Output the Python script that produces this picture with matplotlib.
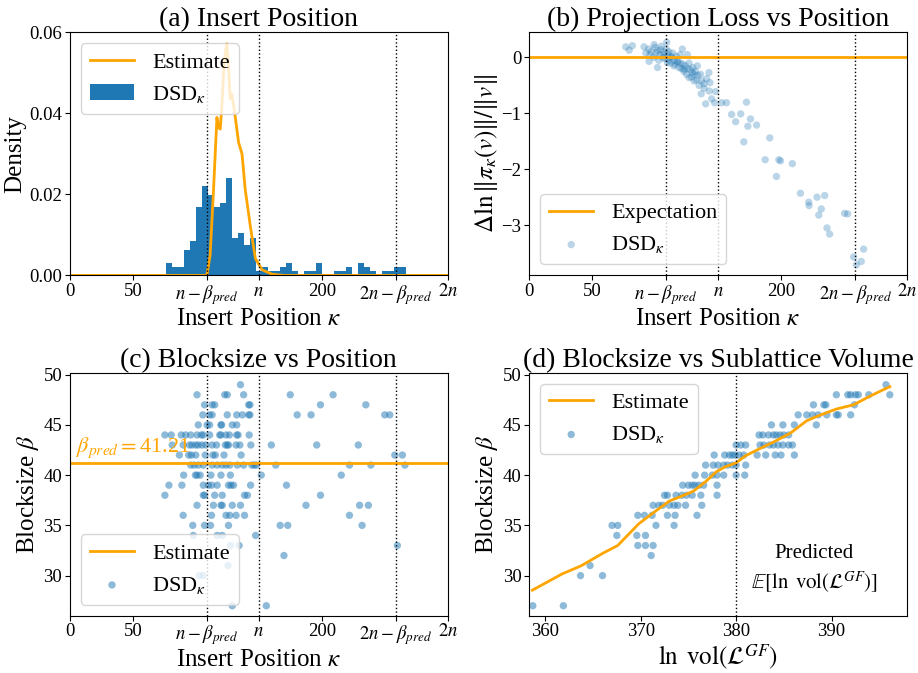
import matplotlib.pyplot as plt
import numpy as np

plt.rcParams['mathtext.fontset'] = 'stix'
plt.rcParams['font.family'] = ['Liberation Serif', 'DejaVu Serif']

n = 150
beta_pred = 41.21
ORANGE = 'orange'
BLUE = '#1f77b4'

# (a) histogram: bins of equal width starting at hist_start
hist_start = 76.4
hist_width = 4.77
hist_heights = [0.003, 0.002, 0.002, 0.0062, 0.0084, 0.0168, 0.0221, 0.0199, 0.0168, 0.0178,
                0.024, 0.0093, 0.0105, 0.0074, 0.0093, 0.001, 0.002, 0.001, 0.001, 0.002,
                0.003, 0.001, 0.0, 0.001, 0.001, 0.003, 0.0, 0.0, 0.001, 0.001,
                0.002, 0.0, 0.003, 0.002, 0.001, 0.0, 0.001, 0.001, 0.002, 0.002]
est_a_x = [0, 108.8, 111.4, 114.1, 116.8, 118.1, 119.4, 120.7, 122.0, 123.4, 124.7, 126.0,
           127.3, 128.6, 130.8, 134.0, 136.7, 139.3, 143.3, 147.3, 152.6, 160.6, 170, 300]
est_a_y = [0, 0, 0.005, 0.0211, 0.0390, 0.0365, 0.0361, 0.0417, 0.0494, 0.0550, 0.0572, 0.0516,
           0.0436, 0.0448, 0.0404, 0.0328, 0.0300, 0.0211, 0.0122, 0.0042, 0.0014, 0.0003, 0.0, 0.0]

# (b) projection loss
pl_x = [76.8, 79.5, 82, 91.3, 92.7, 95.3, 99.3, 102, 104.5, 109.3, 107.2, 109.8, 112.5, 115,
        117.7, 121.7, 123, 125.7, 127, 129.6, 131, 133.6, 136.2, 136.7, 138.9, 140.2, 142.8,
        143.6, 145, 147.3, 148.1, 152.9, 156.8, 160.8, 164, 168, 170.5, 172.6, 173.7, 175.8,
        180.6, 187.4, 191.1, 196.4, 198.3, 199.6, 209, 215.4, 222, 222.3, 228.6, 230, 232,
        234.7, 236.5, 238.6, 250.5, 252.9, 257.7, 259.8, 263.7, 265.6,
        95, 97, 100, 102, 104, 105, 106, 107, 108, 109, 110, 111, 111, 112, 113, 114, 115, 116,
        117, 118, 119, 120, 120, 121, 122, 123, 124, 125, 126, 127, 128, 129, 130, 131, 132,
        133, 134, 135, 137, 139, 141, 143, 103, 99, 101, 96]
pl_y = [0.19, 0.13, 0.21, 0.19, 0.08, -0.07, 0.23, -0.18, 0.14, 0.27, 0.05, -0.09, 0.02, -0.15,
        -0.07, 0.15, -0.21, 0.05, -0.36, -0.27, -0.42, -0.15, -0.30, -0.65, -0.47, -0.83, -0.27,
        -0.45, -0.74, -0.81, -0.61, -0.81, -0.81, -1.02, -1.15, -1.01, -1.51, -0.80, -1.23, -1.10,
        -1.21, -1.83, -1.44, -2.13, -1.83, -1.85, -1.90, -2.43, -2.59, -2.65, -2.50, -2.82, -2.71,
        -2.47, -3.05, -3.16, -2.79, -2.80, -3.57, -3.71, -3.65, -3.43,
        0.15, 0.1, 0.18, 0.12, 0.05, 0.2, 0.0, 0.1, -0.02, 0.15, 0.05, -0.05, 0.1, -0.1, 0.0,
        0.08, -0.05, -0.12, 0.02, -0.08, -0.18, -0.1, 0.05, -0.2, -0.12, -0.25, -0.15, -0.3,
        -0.2, -0.1, -0.22, -0.35, -0.18, -0.3, -0.25, -0.4, -0.32, -0.5, -0.42, -0.55, -0.38,
        -0.6, -0.05, 0.0, 0.08, 0.05]

# (c) blocksize vs insert position, grouped by blocksize
pos_by_beta = {
    49: [135.5],
    48: [101, 123, 125, 138, 175, 209],
    47: [107, 113, 115, 142, 143, 199, 235],
    46: [105.6, 111, 113, 125, 132.5, 137, 142, 143, 180.5, 191.5, 250, 254],
    45: [102, 109, 111, 120, 120.5, 129, 132.5],
    44: [75.5, 80.5, 88.5, 92, 96, 101, 104.5, 106, 111, 119, 120, 124, 126.7, 132.5, 133.6, 142.4],
    43: [81.3, 90, 95, 97, 100, 102, 105, 108, 113, 116.5, 123.5, 125, 126, 132, 135, 143.7, 160, 196, 229],
    42: [87, 94.4, 96.5, 100, 107.5, 113.6, 115.5, 122.4, 136, 258, 264],
    41: [96, 98.7, 102, 106, 113, 117, 121, 124, 127, 133, 138, 144.5, 146.4, 148, 163.5, 222, 239, 266],
    40: [90.4, 99.7, 101, 103.5, 112, 120, 127.5, 152, 215.5],
    39: [78.7, 89, 106, 110, 112.6, 117, 126, 128, 130, 143.5, 172],
    38: [75.5, 106, 107, 115, 121, 138.7, 141, 199],
    37: [101, 114, 120, 121, 129, 135.5, 187.5, 230, 237],
    36: [90, 112.5, 124, 127, 132, 138.7, 222],
    35: [97.6, 107, 111.7, 126, 167, 173, 232],
    34: [98, 117, 121, 147.5],
    33: [127.5, 134.4, 260],
    32: [170],
    31: [125.6],
    30: [102.7, 106],
    27: [129, 156],
}

# (d) blocksize vs sublattice volume, grouped by blocksize
vol_by_beta = {
    49: [395.7],
    48: [390.5, 391.7, 392, 392.5, 392.8, 393.9, 396.1],
    47: [388.1, 389.2, 389.4, 392.4],
    46: [386.5, 387.4, 388, 388.6, 389.5, 390.5, 390.7, 392],
    45: [383.7, 384.9, 386.1, 388.4],
    44: [382.4, 382.8, 383.4, 383.9, 384.2, 384.6, 385, 385.5],
    43: [380, 380.5, 381, 382.5, 382.9, 383.5, 383.9, 384.4, 384.9, 385.5, 385.9],
    42: [377.7, 378.8, 379.3, 379.6, 379.9, 380.3, 380.8, 382.2, 383.1, 384.1, 384.7, 386.1],
    41: [376.8, 377.6, 378.1, 378.7, 379.1, 379.6, 380, 381],
    40: [375.7, 376.7, 377.5, 378, 378.7, 380, 380.9],
    39: [374.4, 375, 375.4, 375.7, 376.1, 376.6, 378],
    38: [372.5, 372.8, 373.7, 374.3, 374.8, 375.4, 376.3, 378],
    37: [371.3, 371.9, 372.3, 373, 373.5, 373.9, 374.7, 376.4],
    36: [369.7, 370.4, 371.2, 372.8, 373.6, 375.9],
    35: [367, 367.6, 371.6, 373.5],
    34: [367.5, 369.6, 370.5],
    33: [369.7, 370.5, 371.3],
    32: [371.1],
    31: [364.7],
    30: [363.7, 366],
    27: [358.7, 361.9],
}
est_d_x = [358.65, 361.75, 363.75, 366.1, 367.6, 369.8, 371.6, 373.0, 374.1, 375.5, 376.8, 377.9,
           378.8, 380.0, 381.0, 382.5, 383.9, 385.7, 387.4, 388.7, 390.5, 392.3, 394.1, 396.1]
est_d_y = [28.55, 30.16, 30.97, 32.26, 33.0, 35.16, 36.45, 37.42, 37.84, 38.39, 39.35, 40.32,
           40.81, 41.23, 41.94, 42.65, 43.29, 44.19, 45.42, 45.94, 46.58, 47.0, 47.9, 48.81]
vol_pred = 380

fs_title, fs_label, fs_tick, fs_leg = 20, 18, 13.5, 16

def flatten(groups):
    xs, ys = [], []
    for b, vals in groups.items():
        xs += vals
        ys += [b] * len(vals)
    return np.array(xs), np.array(ys)

def position_axis(ax):
    ticks = [0, 50, n - beta_pred, n, 200, 2 * n - beta_pred, 2 * n]
    labels = ['0', '50', r'$n-\beta_{pred}$', '$n$', '200', r'$2n-\beta_{pred}$', '$2n$']
    ax.set_xticks(ticks)
    ax.set_xticklabels(labels)
    ax.set_xlim(0, 2 * n)
    for v in (n - beta_pred, n, 2 * n - beta_pred):
        ax.axvline(v, color='k', ls=':', lw=1)

fig, axes = plt.subplots(2, 2, figsize=(9.18, 6.73), dpi=100)
fig.subplots_adjust(left=0.076, right=0.988, top=0.952, bottom=0.085, wspace=0.215, hspace=0.40)
ax_a, ax_b, ax_c, ax_d = axes.flat

# (a)
lefts = hist_start + hist_width * np.arange(len(hist_heights))
ax_a.plot(est_a_x, est_a_y, color=ORANGE, lw=2, label='Estimate')
ax_a.bar(lefts, hist_heights, width=hist_width, align='edge', color=BLUE, label=r'DSD$_\kappa$')
position_axis(ax_a)
ax_a.set_ylim(0, 0.06)
ax_a.set_yticks([0, 0.02, 0.04, 0.06])
ax_a.set_yticklabels(['0.00', '0.02', '0.04', '0.06'])
ax_a.set_title('(a) Insert Position', fontsize=fs_title, pad=3)
ax_a.set_ylabel('Density', fontsize=fs_label, labelpad=2)
ax_a.legend(loc='upper left', fontsize=fs_leg)

# (b)
ax_b.axhline(0, color=ORANGE, lw=2, label='Expectation')
ax_b.scatter(pl_x, pl_y, s=28, color=BLUE, alpha=0.3, edgecolors='none', label=r'DSD$_\kappa$')
position_axis(ax_b)
ax_b.set_ylim(-3.9, 0.45)
ax_b.set_yticks([-3, -2, -1, 0])
ax_b.set_title('(b) Projection Loss vs Position', fontsize=fs_title, pad=3)
ax_b.set_ylabel(r'$\Delta\ln\|\pi_\kappa(v)\|/\|v\|$', fontsize=fs_label, labelpad=1)
ax_b.legend(loc='lower left', fontsize=fs_leg)

# (c)
cx, cy = flatten(pos_by_beta)
ax_c.axhline(beta_pred, color=ORANGE, lw=2, label='Estimate')
ax_c.scatter(cx, cy, s=28, color=BLUE, alpha=0.5, edgecolors='none', label=r'DSD$_\kappa$')
ax_c.text(5, beta_pred + 0.3, r'$\beta_{pred} = $' + f'{beta_pred:.2f}', color=ORANGE,
          fontsize=fs_leg, ha='left', va='bottom')
position_axis(ax_c)
ax_c.set_ylim(26, 50.2)
ax_c.set_yticks([30, 35, 40, 45, 50])
ax_c.set_title('(c) Blocksize vs Position', fontsize=fs_title, pad=3)
ax_c.set_ylabel(r'Blocksize $\beta$', fontsize=fs_label, labelpad=2)
ax_c.legend(loc='lower left', fontsize=fs_leg)

for ax in (ax_a, ax_b, ax_c):
    ax.set_xlabel(r'Insert Position $\kappa$', fontsize=fs_label, labelpad=1)

# (d)
dx, dy = flatten(vol_by_beta)
ax_d.plot(est_d_x, est_d_y, color=ORANGE, lw=2, label='Estimate')
ax_d.scatter(dx, dy, s=28, color=BLUE, alpha=0.5, edgecolors='none', label=r'DSD$_\kappa$')
ax_d.axvline(vol_pred, color='k', ls=':', lw=1)
ax_d.text(388.2, 30.6, 'Predicted\n' + r'$\mathbb{E}[\ln\ \mathrm{vol}(\mathcal{L}^{GF})]$',
          ha='center', va='center', fontsize=15, linespacing=1.3)
ax_d.set_xlim(358.3, 397.9)
ax_d.set_ylim(26, 50.2)
ax_d.set_xticks([360, 370, 380, 390])
ax_d.set_yticks([30, 35, 40, 45, 50])
ax_d.set_title('(d) Blocksize vs Sublattice Volume', fontsize=fs_title, pad=3)
ax_d.set_xlabel(r'$\ln\ \mathrm{vol}(\mathcal{L}^{GF})$', fontsize=fs_label, labelpad=1)
ax_d.set_ylabel(r'Blocksize $\beta$', fontsize=fs_label, labelpad=2)
ax_d.legend(loc='upper left', fontsize=fs_leg)

for ax in axes.flat:
    ax.tick_params(labelsize=fs_tick, pad=2)

fig.savefig('out.png', dpi=100)
